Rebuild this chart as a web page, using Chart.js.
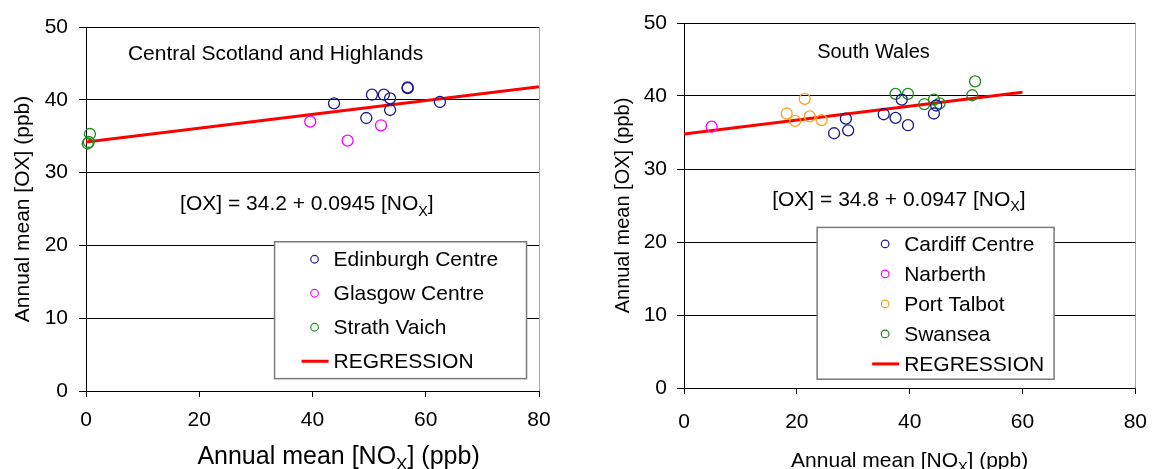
<!DOCTYPE html>
<html>
<head>
<meta charset="utf-8">
<script src="https://cdn.jsdelivr.net/npm/chart.js@4"></script>
<style>
  body { margin: 0; background: #fff; width: 1163px; height: 469px; overflow: hidden; position: relative; }
  .panel { position: absolute; top: 0; height: 469px; }
  #left { left: 0; width: 590px; }
  #right { left: 590px; width: 573px; }
</style>
</head>
<body>
<div class="panel" id="left"><canvas id="leftChart"></canvas></div>
<div class="panel" id="right"><canvas id="rightChart"></canvas></div>
<script>
// Central Scotland and Highlands
const edinburghX = [43.8, 50.5, 52.6, 53.7, 56.8, 56.8, 62.5, 49.5, 53.7];
const edinburghY = [39.5, 40.7, 40.7, 40.2, 41.7, 41.6, 39.7, 37.5, 38.6];
const glasgowX = [39.6, 52.1, 46.2];
const glasgowY = [37.0, 36.5, 34.4];
const strathX = [0.7, 0.5, 0.3];
const strathY = [35.3, 34.2, 34.0];
const leftRegX = [0, 80];
const leftRegY = [34.2, 41.8];

// South Wales
const cardiffX = [28.7, 26.6, 29.1, 35.4, 37.5, 39.7, 38.6, 44.3, 44.7];
const cardiffY = [36.9, 34.9, 35.3, 37.5, 37.0, 36.0, 39.5, 37.6, 38.7];
const narberthX = [4.9];
const narberthY = [35.8];
const talbotX = [21.4, 18.2, 19.7, 22.3, 24.4];
const talbotY = [39.6, 37.6, 36.6, 37.2, 36.7];
const swanseaX = [37.5, 39.7, 42.6, 44.3, 45.3, 51.1, 51.6];
const swanseaY = [40.3, 40.3, 38.9, 39.5, 39.0, 40.1, 42.0];
const rightRegX = [0, 60];
const rightRegY = [34.8, 40.5];

const xTicks = [0, 20, 40, 60, 80];
const yTicks = [0, 10, 20, 30, 40, 50];

const FONT = '"Liberation Sans", Arial, sans-serif';
Chart.defaults.font.family = FONT;
Chart.defaults.color = '#000';

function pts(xs, ys) {
  return xs.map((v, i) => ({ x: v, y: ys[i] }));
}

function site(label, xs, ys, color) {
  return {
    label, data: pts(xs, ys), borderColor: color, backgroundColor: 'rgba(0,0,0,0)',
    pointRadius: 5.5, pointBorderWidth: 1.3, pointHoverRadius: 5.5, showLine: false,
    clip: false, order: 1
  };
}

function regression(xs, ys) {
  return {
    label: 'REGRESSION', data: pts(xs, ys), borderColor: '#ff0000', borderWidth: 3,
    pointRadius: 0, showLine: true, fill: false, order: 2
  };
}

// draws text with a subscript part, centred (or left aligned) at x
function drawRich(ctx, parts, x, y, size, align) {
  const sub = size * 0.68;
  let w = 0;
  parts.forEach(p => {
    ctx.font = `${p.sub ? sub : size}px ${FONT}`;
    w += ctx.measureText(p.t).width;
  });
  let cx = align === 'left' ? x : x - w / 2;
  ctx.textAlign = 'left';
  ctx.textBaseline = 'alphabetic';
  parts.forEach(p => {
    ctx.font = `${p.sub ? sub : size}px ${FONT}`;
    ctx.fillText(p.t, cx, y + (p.sub ? size * 0.25 : 0));
    cx += ctx.measureText(p.t).width;
  });
}

const annotate = {
  id: 'annotate',
  afterDraw(chart, args, o) {
    const { ctx } = chart;
    const sx = chart.scales.x, sy = chart.scales.y;
    ctx.save();
    ctx.fillStyle = '#000';

    drawRich(ctx, [{ t: o.title }], sx.getPixelForValue(o.titleAt[0]), sy.getPixelForValue(o.titleAt[1]), o.titleSize, 'left');
    drawRich(ctx, [{ t: o.equation }, { t: 'X', sub: true }, { t: ']' }],
      sx.getPixelForValue(o.equationAt[0]), sy.getPixelForValue(o.equationAt[1]), 21);
    drawRich(ctx, [{ t: 'Annual mean [NO' }, { t: 'X', sub: true }, { t: '] (ppb)' }],
      sx.getPixelForValue(o.xTitleAt), o.xTitleY, o.xTitleSize);

    // legend box
    const l = sx.getPixelForValue(o.box[0]), r = sx.getPixelForValue(o.box[2]);
    const t = sy.getPixelForValue(o.box[1]), b = sy.getPixelForValue(o.box[3]);
    ctx.fillStyle = '#fff';
    ctx.fillRect(l, t, r - l, b - t);
    ctx.strokeStyle = '#7a7a7a';
    ctx.lineWidth = 1.5;
    ctx.strokeRect(l, t, r - l, b - t);

    const mx = l + o.markerOffset;
    chart.data.datasets.forEach((ds, i) => {
      const ry = t + o.firstRow + i * o.rowGap;
      ctx.strokeStyle = ds.borderColor;
      if (ds.showLine) {
        ctx.lineWidth = 3;
        ctx.beginPath();
        ctx.moveTo(mx - 13, ry);
        ctx.lineTo(mx + 14, ry);
        ctx.stroke();
      } else {
        ctx.lineWidth = 1.2;
        ctx.beginPath();
        ctx.arc(mx, ry, 3.8, 0, Math.PI * 2);
        ctx.stroke();
      }
      ctx.fillStyle = '#000';
      ctx.font = `21px ${FONT}`;
      ctx.textAlign = 'left';
      ctx.textBaseline = 'middle';
      ctx.fillText(ds.label, mx + 19, ry + 1);
    });
    ctx.restore();
  }
};

function makeChart(id, datasets, cfg) {
  return new Chart(document.getElementById(id), {
    type: 'scatter',
    data: { datasets },
    plugins: [annotate],
    options: {
      responsive: true,
      maintainAspectRatio: false,
      animation: false,
      layout: { padding: { top: cfg.top, right: cfg.right, left: 0, bottom: 0 } },
      plugins: { legend: { display: false }, tooltip: { enabled: false }, annotate: cfg.notes },
      scales: {
        x: {
          type: 'linear', min: 0, max: 80,
          afterBuildTicks: s => { s.ticks = xTicks.map(v => ({ value: v })); },
          ticks: { font: { size: 21 }, padding: cfg.xTickPad, maxRotation: 0 },
          grid: {
            drawOnChartArea: true, tickLength: 6, tickColor: '#000',
            color: c => (c.tick && c.tick.value === 80 ? '#a8a8a8' : 'rgba(0,0,0,0)')
          },
          border: { color: '#000', width: 1 },
          afterFit: s => { s.height = cfg.xHeight; }
        },
        y: {
          type: 'linear', min: 0, max: 50,
          afterBuildTicks: s => { s.ticks = yTicks.map(v => ({ value: v })); },
          ticks: { font: { size: 21 }, padding: cfg.yTickPad },
          grid: { color: '#000', tickLength: 7, tickColor: '#000' },
          border: { color: '#000', width: 1 },
          title: {
            display: true, text: 'Annual mean [OX] (ppb)',
            font: { size: cfg.yTitleSize }, padding: { top: cfg.yTitlePad, bottom: 0 }
          },
          afterFit: s => { s.width = cfg.yWidth; }
        }
      }
    }
  });
}

makeChart('leftChart', [
  site('Edinburgh Centre', edinburghX, edinburghY, '#1a1a8c'),
  site('Glasgow Centre', glasgowX, glasgowY, '#ff00ff'),
  site('Strath Vaich', strathX, strathY, '#1f8a1f'),
  regression(leftRegX, leftRegY)
], {
  top: 27, right: 51, xHeight: 78, yWidth: 86, xTickPad: 11, yTickPad: 11,
  yTitleSize: 21, yTitlePad: 11,
  notes: {
    title: 'Central Scotland and Highlands', titleAt: [7.4, 45.4], titleSize: 21,
    equation: '[OX] = 34.2 + 0.0945 [NO', equationAt: [39.0, 24.8],
    xTitleAt: 44.6, xTitleY: 464, xTitleSize: 25,
    box: [33.3, 20.5, 77.8, 1.7], markerOffset: 40, firstRow: 17.5, rowGap: 34
  }
});

makeChart('rightChart', [
  site('Cardiff Centre', cardiffX, cardiffY, '#1a1a8c'),
  site('Narberth', narberthX, narberthY, '#ff00ff'),
  site('Port Talbot', talbotX, talbotY, '#ffa01e'),
  site('Swansea', swanseaX, swanseaY, '#1f8a1f'),
  regression(rightRegX, rightRegY)
], {
  top: 23, right: 12, xHeight: 81, yWidth: 94, xTickPad: 16, yTickPad: 10,
  yTitleSize: 20, yTitlePad: 21,
  notes: {
    title: 'South Wales', titleAt: [23.6, 45.2], titleSize: 20,
    equation: '[OX] = 34.8 + 0.0947 [NO', equationAt: [38.1, 25.0],
    xTitleAt: 40, xTitleY: 467, xTitleSize: 21,
    box: [23.6, 22.0, 65.6, 1.2], markerOffset: 68, firstRow: 16.5, rowGap: 30
  }
});
</script>
</body>
</html>
